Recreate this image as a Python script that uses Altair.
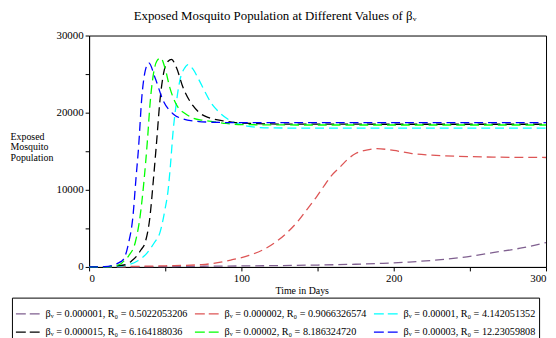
import altair as alt
import pandas as pd

# ---- data ----
series_names = [
    "βᵥ = 0.000001, R₀ = 0.5022053206",
    "βᵥ = 0.000002, R₀ = 0.9066326574",
    "βᵥ = 0.00001, R₀ = 4.142051352",
    "βᵥ = 0.000015, R₀ = 6.164188036",
    "βᵥ = 0.00002, R₀ = 8.186324720",
    "βᵥ = 0.00003, R₀ = 12.23059808",
]
colors = ["#7f5f8f", "#dd5555", "#00ffff", "#000000", "#00ff00", "#0000ff"]

purple_days = [0, 25, 50, 75, 100, 125, 150, 175, 193, 210, 225, 245, 266, 285, 300]
purple_vals = [0, 20, 50, 90, 130, 180, 250, 350, 470, 640, 850, 1240, 1880, 2500, 3160]

red_days = [0, 25, 50, 74, 93, 105, 115, 123, 130, 137, 143, 149, 154, 159, 165, 170, 175, 182, 189, 200, 212, 225, 234, 250, 270, 300]
red_vals = [0, 60, 150, 300, 900, 1500, 2300, 3300, 4450, 5900, 7440, 9000, 10430, 11800, 12990, 14000, 14700, 15150, 15340, 15100, 14700, 14500, 14400, 14300, 14230, 14190]

cyan_days = [0, 15, 25, 32, 38, 40, 43, 46.5, 49.8, 51.9, 53.5, 55.2, 56.9, 59.5, 62.8, 65, 68, 72, 75.8, 80, 84.4, 91, 100, 115, 140, 200, 300]
cyan_vals = [0, 40, 250, 800, 1800, 2310, 3200, 4450, 7440, 10000, 13420, 17690, 20680, 24100, 25810, 26240, 25700, 24300, 22820, 21300, 20250, 19170, 18450, 18040, 18000, 18000, 18000]

black_days = [0, 12, 18, 24.9, 28, 31.4, 34, 36.8, 40, 42.2, 44.4, 46.5, 49.2, 51.9, 54.1, 57.4, 61.7, 68.2, 73, 79, 90, 100, 130, 200, 300]
black_vals = [0, 30, 130, 380, 800, 1450, 2200, 3170, 6580, 11280, 16410, 21540, 25380, 26670, 26920, 25810, 23250, 20900, 19900, 19320, 18900, 18650, 18520, 18500, 18500]

green_days = [0, 10, 15, 20.6, 23, 26, 30.3, 33.5, 36.1, 38.3, 40, 42.2, 44.4, 47, 49.8, 53, 58.4, 63, 68, 75, 81, 90, 100, 150, 300]
green_vals = [0, 30, 120, 380, 800, 1450, 3170, 6580, 11280, 16410, 21110, 24960, 26670, 27090, 25810, 23250, 20680, 19900, 19320, 19000, 18850, 18600, 18450, 18400, 18400]

blue_days = [0, 10, 15, 19, 22.7, 26, 28.8, 30.7, 32.5, 34.6, 36.8, 39.2, 43.3, 48.7, 55.2, 61.7, 70, 81, 100, 150, 300]
blue_vals = [0, 40, 180, 500, 1030, 3170, 6580, 11280, 15550, 21960, 25380, 26450, 24530, 21540, 19830, 19190, 18900, 18760, 18700, 18700, 18700]

rows = []
for name, d, v in [
    (series_names[0], purple_days, purple_vals),
    (series_names[1], red_days, red_vals),
    (series_names[2], cyan_days, cyan_vals),
    (series_names[3], black_days, black_vals),
    (series_names[4], green_days, green_vals),
    (series_names[5], blue_days, blue_vals),
]:
    for x, y in zip(d, v):
        rows.append({"series": name, "day": x, "value": y})
df = pd.DataFrame(rows)

# legend fills column by column: reorder so rows read purple, red, cyan / black, green, blue
legend_order = [0, 3, 1, 4, 2, 5]
domain = [series_names[i] for i in legend_order]
rng = [colors[i] for i in legend_order]

FONT = "Liberation Serif"

chart = (
    alt.Chart(df)
    .mark_line(strokeDash=[9, 5], strokeWidth=1.3, interpolate="monotone")
    .encode(
        x=alt.X(
            "day:Q",
            scale=alt.Scale(domain=[0, 300], nice=False, zero=False),
            axis=alt.Axis(
                values=list(range(0, 301, 50)),
                labelExpr="datum.value % 100 == 0 ? datum.label : ''",
                title="Time in Days",
                titleX=215,
                titleY=24,
                titleAlign="center",
                titleBaseline="middle",
                titleFontSize=10,
                titleFontWeight="normal",
            ),
        ),
        y=alt.Y(
            "value:Q",
            scale=alt.Scale(domain=[0, 30000], nice=False),
            axis=alt.Axis(
                values=list(range(0, 30001, 5000)),
                labelExpr="datum.value % 10000 == 0 ? datum.value : ''",
                title=["Exposed", "Mosquito", "Population"],
                titleAngle=0,
                titleAlign="left",
                titleBaseline="top",
                titleX=-80,
                titleY=97,
                titleFontSize=10,
                titleFontWeight="normal",
                titleLineHeight=10.5,
            ),
        ),
        color=alt.Color(
            "series:N",
            scale=alt.Scale(domain=domain, range=rng),
            legend=alt.Legend(
                title=None,
                orient="none",
                legendX=-78,
                legendY=265,
                columns=3,
                symbolType="stroke",
                symbolSize=576,
                symbolStrokeWidth=1.3,
                symbolDash=[10, 4],
                labelFont=FONT,
                labelFontSize=10.3,
                labelColor="black",
                labelOffset=5,
                labelLimit=0,
                columnPadding=4,
                rowPadding=-9,
                padding=3,
                strokeColor="black",
            ),
        ),
    )
    .properties(
        width=462,
        height=234,
        autosize=alt.AutoSizeParams(type="none"),
        padding={"left": 82, "top": 26, "right": 2, "bottom": 70},
        title=alt.TitleParams(
            "Exposed Mosquito Population at Different Values of βᵥ",
            font=FONT,
            fontSize=13,
            fontWeight="normal",
            anchor="middle",
            dx=-43,
            offset=7,
            color="black",
        ),
    )
    .configure_axis(
        labelFont=FONT,
        titleFont=FONT,
        labelFontSize=11,
        labelColor="black",
        titleColor="black",
        domainColor="black",
        tickColor="black",
        tickSize=4,
        grid=False,
        labelPadding=2,
    )
    .configure_view(stroke="black", strokeWidth=1)
)

chart.save("out.html", embed_options={"renderer": "svg", "actions": False})
